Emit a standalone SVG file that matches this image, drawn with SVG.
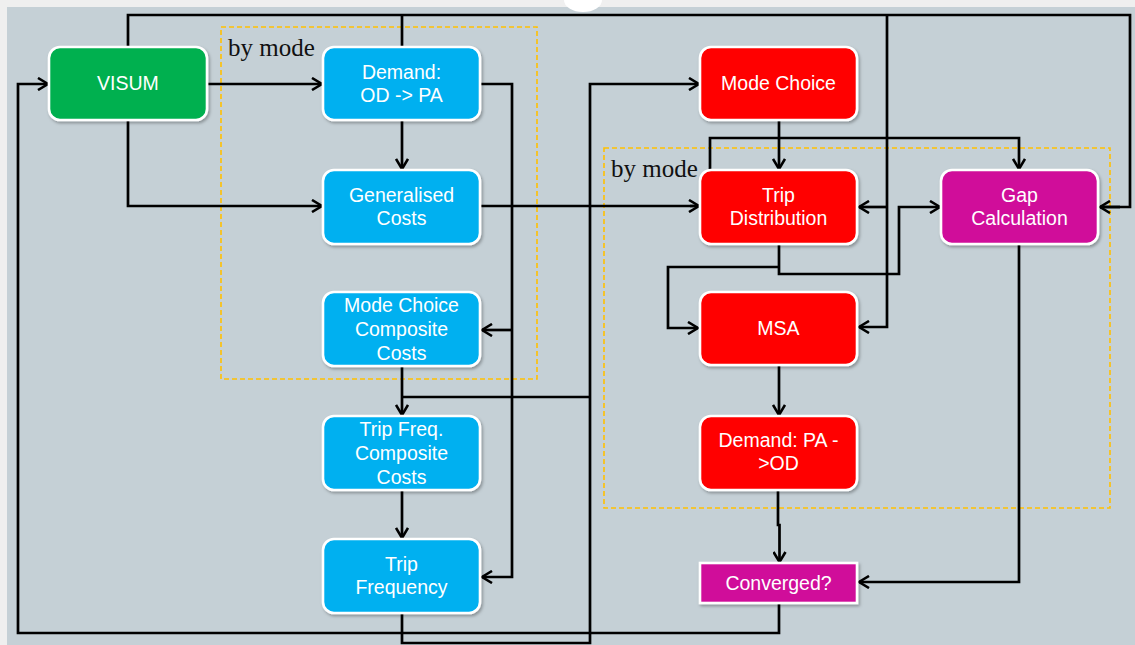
<svg xmlns="http://www.w3.org/2000/svg" width="1135" height="645" viewBox="0 0 1135 645">
<style>
.n{stroke:#fff;stroke-width:2.6;filter:url(#sh)}
.blue{fill:#00B0F0}.green{fill:#00B050}.red{fill:#FF0000}.mag{fill:#D0119A}
.t{font-family:"Liberation Sans",Arial,sans-serif;font-size:19.5px;fill:#fff;text-anchor:middle}
.lbl{font-family:"Liberation Serif","Times New Roman",serif;font-size:25px;fill:#111}
.grp{fill:none;stroke:#FFC000;stroke-width:1.6;stroke-dasharray:5 3}
.c{fill:none;stroke:#000;stroke-width:2.7;stroke-linejoin:miter}
.a{marker-end:url(#ah)}
</style>
<defs>
<filter id="sh" x="-10%" y="-10%" width="125%" height="130%">
<feDropShadow dx="1.5" dy="2" stdDeviation="1.5" flood-color="#000" flood-opacity="0.3"/>
</filter>
<marker id="ah" viewBox="0 0 14 14" markerWidth="14" markerHeight="14" refX="12" refY="7" orient="auto" markerUnits="userSpaceOnUse">
<path d="M2,1 L12,7 L2,13" fill="none" stroke="#000" stroke-width="2.6"/>
</marker>
</defs>
<rect x="0" y="0" width="1135" height="645" fill="#EFEFEF"/>
<rect x="7" y="7" width="1128" height="638" fill="#C5D0D6"/>
<ellipse cx="583" cy="0" rx="19" ry="12" fill="#fff"/>

<g id="groups">
<rect class="grp" x="221" y="27" width="316" height="352"/>
<rect class="grp" x="604" y="148" width="506" height="360"/>
<text class="lbl" x="228" y="56">by mode</text>
<text class="lbl" x="611" y="177">by mode</text>
</g>

<g id="connectors">
<path class="c" d="M128,47 V15 H1130 V207 H1100"/>
<path class="c a" d="M1120,207 H1100"/>
<path class="c" d="M402,47 V15"/>
<path class="c a" d="M887,15 V327 H859"/>
<path class="c a" d="M887,207 H859"/>
<path class="c a" d="M207,84 H322"/>
<path class="c a" d="M128,120 V206 H322"/>
<path class="c a" d="M402,120 V169"/>
<path class="c a" d="M480,84 H512 V577 H482"/>
<path class="c a" d="M512,330 H482"/>
<path class="c a" d="M480,206 H699"/>
<path class="c a" d="M690,206 H710 V138 H1019 V169"/>
<path class="c a" d="M779,120 V169"/>
<path class="c a" d="M402,366 V415"/>
<path class="c" d="M402,397 H590"/>
<path class="c a" d="M402,613 V643 H590 V84 H699"/>
<path class="c a" d="M402,490 V538"/>
<path class="c a" d="M779,244 V274 H899 V207 H940"/>
<path class="c a" d="M779,267 H668 V328 H698"/>
<path class="c a" d="M779,366 V415"/>
<path class="c a" d="M778,490 V525 H779.5 V562"/>
<path class="c a" d="M1019,245 V582 H859"/>
<path class="c a" d="M779,603 V633 H18 V84 H48"/>
</g>

<g id="visum">
<rect class="n green" x="49" y="47" width="158" height="73" rx="11"/>
<text class="t" x="128" y="90">VISUM</text>
</g>
<g id="demand-od-pa">
<rect class="n blue" x="323" y="47" width="157" height="73" rx="11"/>
<text class="t" x="401.5" y="78.5">Demand:</text>
<text class="t" x="401.5" y="101.5">OD -&gt; PA</text>
</g>
<g id="generalised-costs">
<rect class="n blue" x="323" y="170" width="157" height="74" rx="11"/>
<text class="t" x="401.5" y="202">Generalised</text>
<text class="t" x="401.5" y="225">Costs</text>
</g>
<g id="mode-choice-composite-costs">
<rect class="n blue" x="323" y="292" width="157" height="74" rx="11"/>
<text class="t" x="401.5" y="312">Mode Choice</text>
<text class="t" x="401.5" y="336">Composite</text>
<text class="t" x="401.5" y="360">Costs</text>
</g>
<g id="trip-freq-composite-costs">
<rect class="n blue" x="323" y="416" width="157" height="74" rx="11"/>
<text class="t" x="401.5" y="436">Trip Freq.</text>
<text class="t" x="401.5" y="460">Composite</text>
<text class="t" x="401.5" y="484">Costs</text>
</g>
<g id="trip-frequency">
<rect class="n blue" x="323" y="539" width="157" height="74" rx="11"/>
<text class="t" x="401.5" y="571">Trip</text>
<text class="t" x="401.5" y="594">Frequency</text>
</g>
<g id="mode-choice">
<rect class="n red" x="700" y="47" width="157" height="73" rx="11"/>
<text class="t" x="778.5" y="90">Mode Choice</text>
</g>
<g id="trip-distribution">
<rect class="n red" x="700" y="170" width="157" height="74" rx="11"/>
<text class="t" x="778.5" y="202">Trip</text>
<text class="t" x="778.5" y="225">Distribution</text>
</g>
<g id="gap-calculation">
<rect class="n mag" x="941" y="170" width="157" height="74" rx="11"/>
<text class="t" x="1019.5" y="202">Gap</text>
<text class="t" x="1019.5" y="225">Calculation</text>
</g>
<g id="msa">
<rect class="n red" x="700" y="292" width="157" height="73" rx="11"/>
<text class="t" x="778.5" y="335">MSA</text>
</g>
<g id="demand-pa-od">
<rect class="n red" x="700" y="416" width="157" height="74" rx="11"/>
<text class="t" x="778.5" y="447">Demand: PA -</text>
<text class="t" x="778.5" y="470">&gt;OD</text>
</g>
<g id="converged">
<rect class="n mag" x="700" y="563" width="157" height="40"/>
<text class="t" x="778.5" y="589.5">Converged?</text>
</g>
</svg>
